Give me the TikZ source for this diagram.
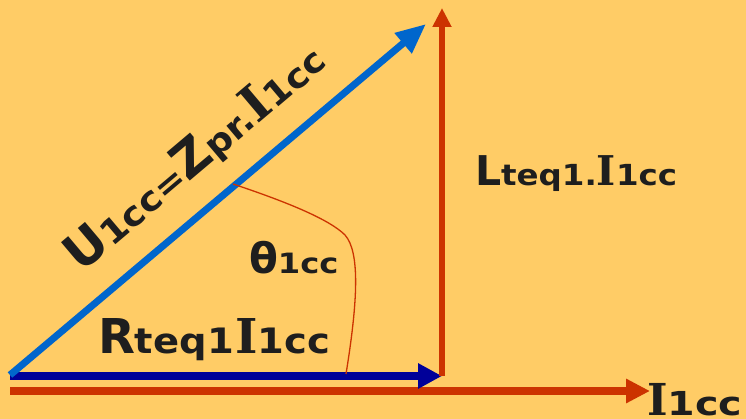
\documentclass[tikz,border=0pt]{standalone}
\usepackage{fontspec}
\usepackage{graphicx}
\usetikzlibrary{arrows.meta}
\newfontfamily\dvs{DejaVu Sans}
\newfontfamily\dvser{DejaVu Serif}
\newcommand\sfb[2]{{\dvs\bfseries\fontsize{#1}{#1}\selectfont #2}}
\newcommand\sfs[3]{\scalebox{#2}[1]{\sfb{#1}{#3}}}
\newcommand\serb[2]{{\dvser\bfseries\fontsize{#1}{#1}\selectfont #2}}
\definecolor{bgc}{HTML}{FFCC66}
\definecolor{uline}{HTML}{0066CC}
\definecolor{rline}{HTML}{000099}
\definecolor{redl}{HTML}{CC3300}
\definecolor{txt}{HTML}{1E1E1E}
\tikzset{
  lab/.style={inner sep=0pt, outer sep=0pt, text=txt},
}
\begin{document}
\begin{tikzpicture}[x=1pt,y=-1pt]
\useasboundingbox (0,0) rectangle (746,419);
\fill[bgc] (0,0) rectangle (746,419);
% coordinates
\coordinate (O) at (10,375);
\coordinate (Ob) at (10,376);
\coordinate (Or) at (10,391);
\coordinate (Iend) at (650,391);
\coordinate (Rend) at (442,376);
\coordinate (Vb) at (442,376);
\coordinate (Vt) at (442,8);
\coordinate (Uend) at (426,24);
\coordinate (A1) at (233,184);
\coordinate (A2) at (345,235);
\coordinate (A3) at (346,374);
% arrows
\draw[redl, line width=7.5pt, -{Triangle[length=24pt,width=23pt]}] (Or) -- (Iend);
\draw[rline, line width=7.5pt, -{Triangle[length=24pt,width=24pt]}] (Ob) -- (Rend);
\draw[redl, line width=6pt, -{Triangle[length=19pt,width=18pt]}] (Vb) -- (Vt);
\draw[uline, line width=7pt, -{Triangle[length=30pt,width=25pt]}] (O) -- (Uend);
% angle arc
\draw[redl, line width=1.3pt] (A1) .. controls (290,203) and (330,220) .. (A2)
   .. controls (360,252) and (358,300) .. (A3);
% labels
\node[lab, anchor=base west] (lr) at (98,353)
  {\sfb{48}{R}\sfs{35}{1.1}{teq1}\,\serb{48}{I}\sfs{35}{1.1}{1cc}};
\node[lab, anchor=base west] (lth) at (249,274)
  {\sfb{42}{θ}\sfs{28}{1.15}{1cc}};
\node[lab, anchor=base west] (ll) at (475,186)
  {\sfb{41}{L}\sfs{29}{1.12}{teq1.}\serb{41}{I}\sfs{29}{1.12}{1cc}};
\node[lab, anchor=base west] (li) at (647,415)
  {\serb{44}{I}\sfs{33}{1.2}{1cc}};
\node[lab, anchor=base west, rotate=40.2] (lu) at (81,274)
  {\sfb{50}{U}\sfs{34}{1.09}{1cc=}\sfb{50}{Z}\sfs{34}{1.09}{pr.}\serb{50}{I}\sfs{34}{1.09}{1cc}};
\end{tikzpicture}
\end{document}
